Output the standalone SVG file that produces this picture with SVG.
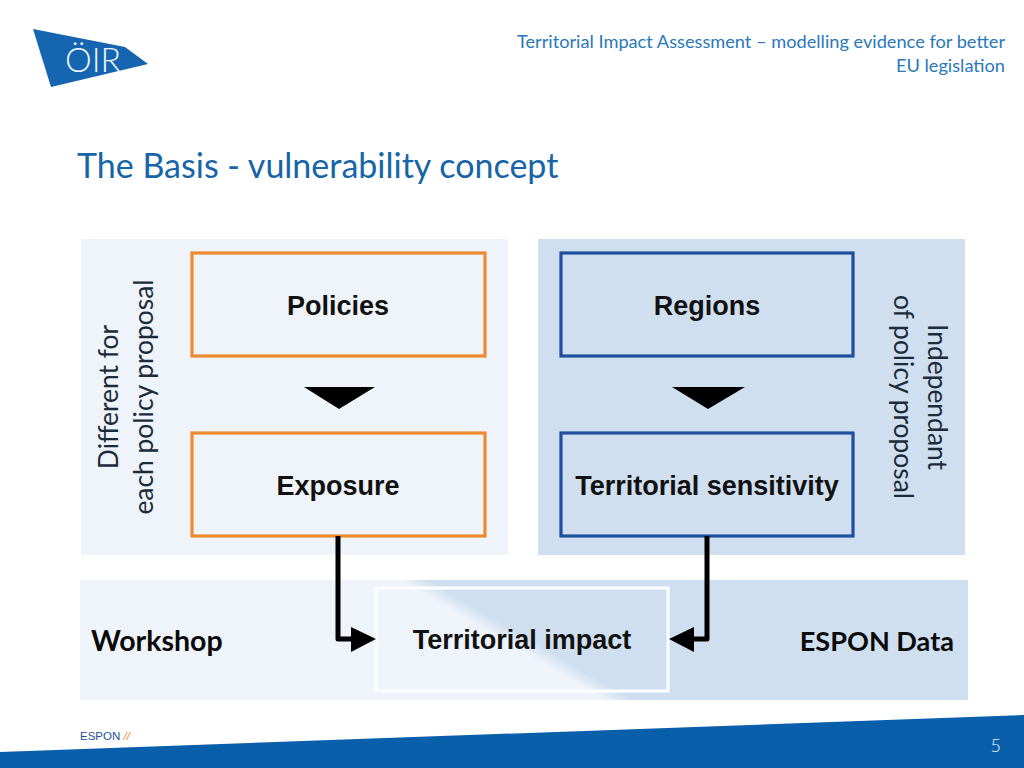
<svg xmlns="http://www.w3.org/2000/svg" width="1024" height="768" viewBox="0 0 1024 768">
<style>
.lato{font-family:"Lato","Open Sans",sans-serif}
.hd{font-size:18.2px;fill:#2a78b8;text-anchor:end}
.side{font-size:26.4px;fill:#1c2b3a;text-anchor:middle}
.box{font-family:"Liberation Sans",Arial,sans-serif;font-weight:700;font-size:27px;fill:#111;text-anchor:middle}
.band{font-family:"Lato",sans-serif;font-weight:700;font-size:28.5px;fill:#0a0a0a}
.o{fill:none;stroke:#ee8a2e;stroke-width:3.2}
.b{fill:none;stroke:#1f4f9c;stroke-width:3.2}
.conn{fill:none;stroke:#000;stroke-width:5;stroke-linejoin:round}
</style>
<defs>
<linearGradient id="bandFill" gradientUnits="userSpaceOnUse" x1="512.5" y1="646" x2="519.5" y2="634">
<stop offset="0" stop-color="#eff4fa"/><stop offset="1" stop-color="#d0dff0"/>
</linearGradient>
</defs>
<rect width="1024" height="768" fill="#fff"/>
<g id="logo">
<polygon points="33,29 125,47 148,64 51,87" fill="#1565b0"/>
<text x="65" y="72" class="lato" font-weight="300" font-size="33" fill="#eef8fe" textLength="56" lengthAdjust="spacingAndGlyphs">ÖIR</text>
</g>
<g id="header" class="lato">
<text class="hd" x="1005" y="48">Territorial Impact Assessment – modelling evidence for better</text>
<text class="hd" x="1005" y="72">EU legislation</text>
<text x="77" y="177.5" font-size="34" fill="#1565a8">The Basis - vulnerability concept</text>
</g>
<rect id="panel-left" x="81" y="239" width="427" height="316" fill="#eff4fa"/>
<rect id="panel-right" x="538" y="239" width="427" height="316" fill="#d0dff0"/>
<rect id="panel-bottom" x="80" y="580" width="888" height="120" fill="url(#bandFill)"/>
<g id="label-left" class="lato side">
<text transform="translate(118,397) rotate(-90)">Different for</text>
<text transform="translate(153,397) rotate(-90)">each policy proposal</text>
</g>
<g id="label-right" class="lato side">
<text transform="translate(928,397) rotate(90)">Independant</text>
<text transform="translate(894,397) rotate(90)">of policy proposal</text>
</g>
<g id="policies"><rect class="o" x="192" y="253" width="293" height="103"/><text class="box" x="338" y="314.5">Policies</text></g>
<g id="exposure"><rect class="o" x="192" y="433" width="293" height="103"/><text class="box" x="338" y="494.5">Exposure</text></g>
<g id="regions"><rect class="b" x="561" y="253" width="292" height="103"/><text class="box" x="707" y="314.5">Regions</text></g>
<g id="sensitivity"><rect class="b" x="561" y="433" width="292" height="103"/><text class="box" x="707" y="494.5">Territorial sensitivity</text></g>
<g id="impact"><rect x="376" y="588" width="292" height="103" fill="none" stroke="#fbfdfe" stroke-width="3.2"/><text class="box" x="522" y="649">Territorial impact</text></g>
<g id="workshop"><text class="band" x="91" y="651">Workshop</text></g>
<g id="espon-data"><text class="band" x="954" y="651" text-anchor="end" style="font-size:27.1px">ESPON Data</text></g>
<g id="connectors">
<polygon points="304,387 375,387 339,409"/>
<polygon points="672,387 745,387 708,409"/>
<path class="conn" d="M338,536V639H356"/>
<polygon points="351,627 376,639 351,652"/>
<path class="conn" d="M707,536V639H690"/>
<polygon points="694,627 669,639 694,652"/>
</g>
<g id="footer">
<polygon points="0,752 1024,715 1024,768 0,768" fill="#0a5fab"/>
<text x="80" y="740" font-family="Liberation Sans,sans-serif" font-size="11.5" fill="#1f4f9c">ESPON <tspan fill="#ee8a2e" font-style="italic">//</tspan></text>
<text x="1001" y="752" class="lato" font-weight="300" font-size="18" fill="#e8f1f9" text-anchor="end">5</text>
</g>
</svg>
